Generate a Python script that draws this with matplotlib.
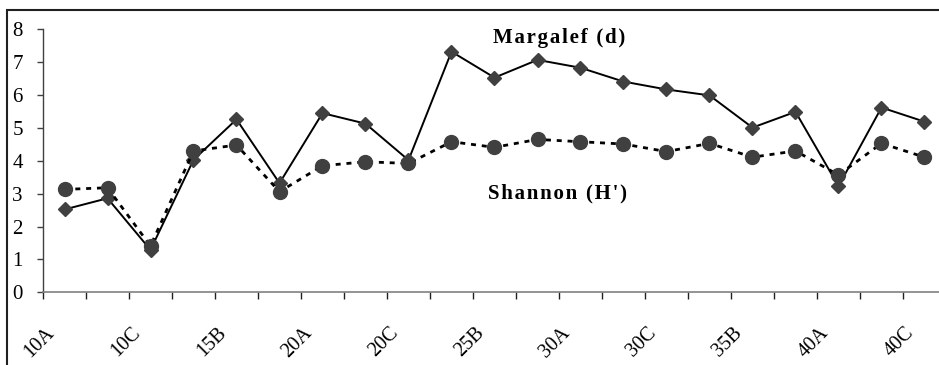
import matplotlib
matplotlib.use("Agg")
import matplotlib.pyplot as plt
from matplotlib.transforms import ScaledTranslation
from matplotlib.patches import Rectangle

categories = ["10A", "10B", "10C", "15A", "15B", "15C", "20A", "20B", "20C",
              "25A", "25B", "25C", "30A", "30B", "30C", "35A", "35B", "35C",
              "40A", "40B", "40C"]
margalef = [2.52, 2.86, 1.29, 4.03, 5.26, 3.32, 5.45, 5.13, 4.02, 7.32, 6.53,
            7.07, 6.83, 6.41, 6.17, 5.99, 5.01, 5.49, 3.23, 5.62, 5.19]
shannon = [3.13, 3.18, 1.41, 4.30, 4.48, 3.06, 3.85, 3.97, 3.92, 4.58, 4.41,
           4.65, 4.58, 4.51, 4.28, 4.53, 4.11, 4.30, 3.57, 4.53, 4.11]
yticks = [0, 1, 2, 3, 4, 5, 6, 7, 8]

W, H = 939, 365
fig = plt.figure(figsize=(W / 100, H / 100), dpi=100)
plt.rcParams['font.family'] = ['Liberation Serif', 'DejaVu Serif']

left, bottom, right, top = 43, 292.3, 43 + 21 * 43, 29.3
ax = fig.add_axes([left / W, (H - bottom) / H, (right - left) / W, (bottom - top) / H])

x = list(range(len(categories)))
ax.plot(x, margalef, color="black", lw=1.4, marker="D", markersize=7,
        markerfacecolor="#404040", markeredgecolor="#404040", zorder=3,
        clip_on=False)
ax.plot(x, shannon, color="black", lw=2.0, dashes=(1.8, 2.1), marker="o",
        markersize=10, markerfacecolor="#404040", markeredgecolor="#404040",
        zorder=4, clip_on=False)

ax.set_xlim(-0.5, len(categories) - 0.5)
ax.set_ylim(0, 8)
ax.set_yticks(yticks)
ax.set_yticklabels([str(t) for t in yticks], fontsize=15)
ax.tick_params(axis='y', direction='out', length=4, width=1, color='#404040', pad=10.5)

ax.set_xticks([i - 0.5 for i in range(len(categories) + 1)], minor=True)
ax.set_xticks(x[::2])
ax.set_xticklabels(categories[::2], fontsize=14.5, rotation=45, ha='right',
                   va='center', rotation_mode='anchor')
ax.tick_params(axis='x', which='major', length=0, pad=0)
ax.tick_params(axis='x', which='minor', direction='out', length=5, width=1, color='#202020')
offset = ScaledTranslation(-13 / 100, -38 / 100, fig.dpi_scale_trans)
for lbl in ax.get_xticklabels():
    lbl.set_transform(lbl.get_transform() + offset)

for s in ['top', 'right']:
    ax.spines[s].set_visible(False)
ax.spines['left'].set_color('#404040')
ax.spines['bottom'].set_color('#808080')
ax.spines['left'].set_linewidth(1)
ax.spines['bottom'].set_linewidth(1.2)
ax.patch.set_alpha(0)

def spaced(s):
    return "\u200a".join(s)

ax.text(559 / W, (H - 38) / H, spaced("Margalef (d)"), transform=fig.transFigure,
        fontsize=15, fontweight='bold', ha='center', va='center')
ax.text(557 / W, (H - 193) / H, spaced("Shannon (H')"), transform=fig.transFigure,
        fontsize=15, fontweight='bold', ha='center', va='center')

# outer chart border (left and top visible)
fig.patches.append(Rectangle((6.7 / W, -0.1), 1.2, (H - 10) / H + 0.1,
                             transform=fig.transFigure, fill=False,
                             edgecolor='#202020', lw=1.5))

fig.savefig("out.png", dpi=100)
